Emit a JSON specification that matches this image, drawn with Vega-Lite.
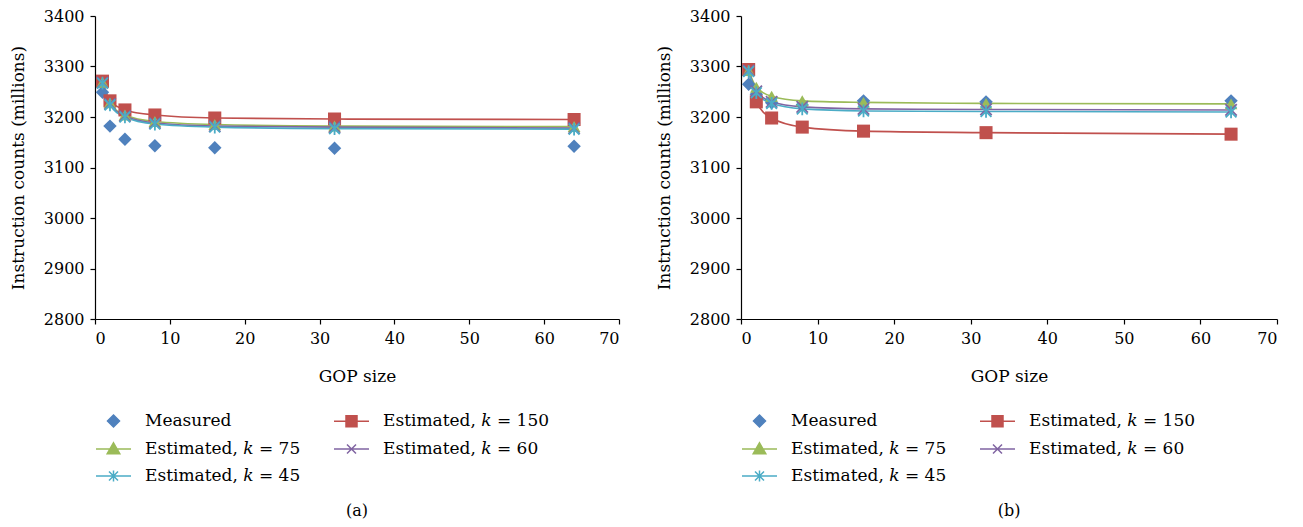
{
  "$schema": "https://vega.github.io/schema/vega-lite/v6.json",
  "padding": {"left": 9, "top": 8, "right": 4, "bottom": 2},
  "spacing": 35,
  "datasets": {
    "a": [
      {"gop": 1, "value": 3249, "series": "Measured"},
      {"gop": 2, "value": 3182, "series": "Measured"},
      {"gop": 4, "value": 3156, "series": "Measured"},
      {"gop": 8, "value": 3143, "series": "Measured"},
      {"gop": 16, "value": 3139, "series": "Measured"},
      {"gop": 32, "value": 3138, "series": "Measured"},
      {"gop": 64, "value": 3142, "series": "Measured"},
      {"gop": 1, "value": 3271, "series": "Estimated, k = 150"},
      {"gop": 2, "value": 3232, "series": "Estimated, k = 150"},
      {"gop": 4, "value": 3214, "series": "Estimated, k = 150"},
      {"gop": 8, "value": 3204, "series": "Estimated, k = 150"},
      {"gop": 16, "value": 3198, "series": "Estimated, k = 150"},
      {"gop": 32, "value": 3196, "series": "Estimated, k = 150"},
      {"gop": 64, "value": 3195, "series": "Estimated, k = 150"},
      {"gop": 1, "value": 3269, "series": "Estimated, k = 75"},
      {"gop": 2, "value": 3228, "series": "Estimated, k = 75"},
      {"gop": 4, "value": 3204, "series": "Estimated, k = 75"},
      {"gop": 8, "value": 3191, "series": "Estimated, k = 75"},
      {"gop": 16, "value": 3185, "series": "Estimated, k = 75"},
      {"gop": 32, "value": 3182, "series": "Estimated, k = 75"},
      {"gop": 64, "value": 3181, "series": "Estimated, k = 75"},
      {"gop": 1, "value": 3268, "series": "Estimated, k = 60"},
      {"gop": 2, "value": 3226, "series": "Estimated, k = 60"},
      {"gop": 4, "value": 3202, "series": "Estimated, k = 60"},
      {"gop": 8, "value": 3188, "series": "Estimated, k = 60"},
      {"gop": 16, "value": 3182, "series": "Estimated, k = 60"},
      {"gop": 32, "value": 3180, "series": "Estimated, k = 60"},
      {"gop": 64, "value": 3178, "series": "Estimated, k = 60"},
      {"gop": 1, "value": 3267, "series": "Estimated, k = 45"},
      {"gop": 2, "value": 3224, "series": "Estimated, k = 45"},
      {"gop": 4, "value": 3200, "series": "Estimated, k = 45"},
      {"gop": 8, "value": 3186, "series": "Estimated, k = 45"},
      {"gop": 16, "value": 3180, "series": "Estimated, k = 45"},
      {"gop": 32, "value": 3177, "series": "Estimated, k = 45"},
      {"gop": 64, "value": 3176, "series": "Estimated, k = 45"}
    ],
    "b": [
      {"gop": 1, "value": 3265, "series": "Measured"},
      {"gop": 2, "value": 3245, "series": "Measured"},
      {"gop": 4, "value": 3228, "series": "Measured"},
      {"gop": 8, "value": 3224, "series": "Measured"},
      {"gop": 16, "value": 3232, "series": "Measured"},
      {"gop": 32, "value": 3230, "series": "Measured"},
      {"gop": 64, "value": 3232, "series": "Measured"},
      {"gop": 1, "value": 3294, "series": "Estimated, k = 150"},
      {"gop": 2, "value": 3230, "series": "Estimated, k = 150"},
      {"gop": 4, "value": 3198, "series": "Estimated, k = 150"},
      {"gop": 8, "value": 3180, "series": "Estimated, k = 150"},
      {"gop": 16, "value": 3172, "series": "Estimated, k = 150"},
      {"gop": 32, "value": 3169, "series": "Estimated, k = 150"},
      {"gop": 64, "value": 3166, "series": "Estimated, k = 150"},
      {"gop": 1, "value": 3292, "series": "Estimated, k = 75"},
      {"gop": 2, "value": 3259, "series": "Estimated, k = 75"},
      {"gop": 4, "value": 3241, "series": "Estimated, k = 75"},
      {"gop": 8, "value": 3232, "series": "Estimated, k = 75"},
      {"gop": 16, "value": 3229, "series": "Estimated, k = 75"},
      {"gop": 32, "value": 3227, "series": "Estimated, k = 75"},
      {"gop": 64, "value": 3226, "series": "Estimated, k = 75"},
      {"gop": 1, "value": 3292, "series": "Estimated, k = 60"},
      {"gop": 2, "value": 3251, "series": "Estimated, k = 60"},
      {"gop": 4, "value": 3230, "series": "Estimated, k = 60"},
      {"gop": 8, "value": 3220, "series": "Estimated, k = 60"},
      {"gop": 16, "value": 3216, "series": "Estimated, k = 60"},
      {"gop": 32, "value": 3215, "series": "Estimated, k = 60"},
      {"gop": 64, "value": 3214, "series": "Estimated, k = 60"},
      {"gop": 1, "value": 3290, "series": "Estimated, k = 45"},
      {"gop": 2, "value": 3248, "series": "Estimated, k = 45"},
      {"gop": 4, "value": 3227, "series": "Estimated, k = 45"},
      {"gop": 8, "value": 3216, "series": "Estimated, k = 45"},
      {"gop": 16, "value": 3212, "series": "Estimated, k = 45"},
      {"gop": 32, "value": 3211, "series": "Estimated, k = 45"},
      {"gop": 64, "value": 3210, "series": "Estimated, k = 45"}
    ]
  },
  "hconcat": [
    {
      "width": 524,
      "height": 303,
      "title": {"text": "(a)", "orient": "bottom", "fontSize": 16, "fontWeight": "normal", "font": "DejaVu Serif", "offset": 18},
      "data": {"name": "a"},
      "encoding": {
        "x": {"field": "gop", "type": "quantitative", "title": "GOP size", "scale": {"domain": [0, 70], "nice": false}, "axis": {"values": [0, 10, 20, 30, 40, 50, 60, 70]}},
        "y": {"field": "value", "type": "quantitative", "title": "Instruction counts (millions)", "scale": {"domain": [2800, 3400], "nice": false, "zero": false}, "axis": {"values": [2800, 2900, 3000, 3100, 3200, 3300, 3400], "format": "d"}}
      },
      "layer": [
        {"transform": [{"filter": "datum.series == 'Estimated, k = 150'"}], "mark": {"type": "line", "interpolate": "monotone", "strokeWidth": 1.6, "color": "#C0504D"}},
        {"transform": [{"filter": "datum.series == 'Estimated, k = 75'"}], "mark": {"type": "line", "interpolate": "monotone", "strokeWidth": 1.6, "color": "#9BBB59"}},
        {"transform": [{"filter": "datum.series == 'Estimated, k = 60'"}], "mark": {"type": "line", "interpolate": "monotone", "strokeWidth": 1.6, "color": "#8064A2"}},
        {"transform": [{"filter": "datum.series == 'Estimated, k = 45'"}], "mark": {"type": "line", "interpolate": "monotone", "strokeWidth": 1.6, "color": "#4BACC6"}},
        {"transform": [{"filter": "datum.series == 'Measured'"}], "mark": {"type": "point", "shape": "diamond", "filled": true, "size": 180, "opacity": 1, "color": "#4F81BD"}},
        {"transform": [{"filter": "datum.series == 'Estimated, k = 150'"}], "mark": {"type": "point", "shape": "square", "filled": true, "size": 170, "opacity": 1, "color": "#C0504D"}},
        {"transform": [{"filter": "datum.series == 'Estimated, k = 75'"}], "mark": {"type": "point", "shape": "triangle-up", "filled": true, "size": 160, "opacity": 1, "color": "#9BBB59"}},
        {"transform": [{"filter": "datum.series == 'Estimated, k = 60'"}], "mark": {"type": "point", "shape": "M-1,-1L1,1M-1,1L1,-1", "filled": false, "size": 130, "strokeWidth": 1.8, "opacity": 1, "color": "#8064A2"}},
        {"transform": [{"filter": "datum.series == 'Estimated, k = 45'"}], "mark": {"type": "point", "shape": "M0,-1V1M-0.85,-0.85L0.85,0.85M-0.85,0.85L0.85,-0.85", "filled": false, "size": 160, "strokeWidth": 1.8, "opacity": 1, "color": "#4BACC6"}},
        {
          "transform": [{"filter": "datum.gop < 0"}],
          "mark": {"type": "point", "filled": true},
          "encoding": {
            "color": {
              "field": "series", "type": "nominal",
              "scale": {"domain": ["Measured", "Estimated, k = 150", "Estimated, k = 75", "Estimated, k = 60", "Estimated, k = 45"], "range": ["#4F81BD", "#C0504D", "#9BBB59", "#8064A2", "#4BACC6"]},
              "legend": {"title": null, "orient": "bottom", "columns": 2, "direction": "horizontal", "labelExpr": "replace(datum.label, ' k ', ' 𝑘 ')"}
            },
            "stroke": {
              "field": "series", "type": "nominal",
              "scale": {"domain": ["Measured", "Estimated, k = 150", "Estimated, k = 75", "Estimated, k = 60", "Estimated, k = 45"], "range": ["#4F81BD", "#C0504D", "#9BBB59", "#8064A2", "#4BACC6"]},
              "legend": {"title": null, "orient": "bottom", "columns": 2, "direction": "horizontal", "labelExpr": "replace(datum.label, ' k ', ' 𝑘 ')"}
            },
            "shape": {
              "field": "series", "type": "nominal",
              "scale": {"domain": ["Measured", "Estimated, k = 150", "Estimated, k = 75", "Estimated, k = 60", "Estimated, k = 45"], "range": ["M0.75,-0.6L1.35,0L0.75,0.6L0.15,0Z", "M-1,0H2.5M0.2,-0.55H1.3V0.55H0.2Z", "M-1,0H2.5M0.75,-0.62L1.38,0.48H0.12Z", "M-1,0H2.5M0.3,-0.45L1.2,0.45M0.3,0.45L1.2,-0.45", "M-1,0H2.5M0.75,-0.55V0.55M0.3,-0.45L1.2,0.45M0.3,0.45L1.2,-0.45"]},
              "legend": {"title": null, "orient": "bottom", "columns": 2, "direction": "horizontal", "labelExpr": "replace(datum.label, ' k ', ' 𝑘 ')"}
            }
          }
        }
      ]
    },
    {
      "width": 536,
      "height": 303,
      "title": {"text": "(b)", "orient": "bottom", "fontSize": 16, "fontWeight": "normal", "font": "DejaVu Serif", "offset": 18},
      "data": {"name": "b"},
      "encoding": {
        "x": {"field": "gop", "type": "quantitative", "title": "GOP size", "scale": {"domain": [0, 70], "nice": false}, "axis": {"values": [0, 10, 20, 30, 40, 50, 60, 70]}},
        "y": {"field": "value", "type": "quantitative", "title": "Instruction counts (millions)", "scale": {"domain": [2800, 3400], "nice": false, "zero": false}, "axis": {"values": [2800, 2900, 3000, 3100, 3200, 3300, 3400], "format": "d"}}
      },
      "layer": [
        {"transform": [{"filter": "datum.series == 'Estimated, k = 150'"}], "mark": {"type": "line", "interpolate": "monotone", "strokeWidth": 1.6, "color": "#C0504D"}},
        {"transform": [{"filter": "datum.series == 'Estimated, k = 75'"}], "mark": {"type": "line", "interpolate": "monotone", "strokeWidth": 1.6, "color": "#9BBB59"}},
        {"transform": [{"filter": "datum.series == 'Estimated, k = 60'"}], "mark": {"type": "line", "interpolate": "monotone", "strokeWidth": 1.6, "color": "#8064A2"}},
        {"transform": [{"filter": "datum.series == 'Estimated, k = 45'"}], "mark": {"type": "line", "interpolate": "monotone", "strokeWidth": 1.6, "color": "#4BACC6"}},
        {"transform": [{"filter": "datum.series == 'Measured'"}], "mark": {"type": "point", "shape": "diamond", "filled": true, "size": 180, "opacity": 1, "color": "#4F81BD"}},
        {"transform": [{"filter": "datum.series == 'Estimated, k = 150'"}], "mark": {"type": "point", "shape": "square", "filled": true, "size": 170, "opacity": 1, "color": "#C0504D"}},
        {"transform": [{"filter": "datum.series == 'Estimated, k = 75'"}], "mark": {"type": "point", "shape": "triangle-up", "filled": true, "size": 160, "opacity": 1, "color": "#9BBB59"}},
        {"transform": [{"filter": "datum.series == 'Estimated, k = 60'"}], "mark": {"type": "point", "shape": "M-1,-1L1,1M-1,1L1,-1", "filled": false, "size": 130, "strokeWidth": 1.8, "opacity": 1, "color": "#8064A2"}},
        {"transform": [{"filter": "datum.series == 'Estimated, k = 45'"}], "mark": {"type": "point", "shape": "M0,-1V1M-0.85,-0.85L0.85,0.85M-0.85,0.85L0.85,-0.85", "filled": false, "size": 160, "strokeWidth": 1.8, "opacity": 1, "color": "#4BACC6"}},
        {
          "transform": [{"filter": "datum.gop < 0"}],
          "mark": {"type": "point", "filled": true},
          "encoding": {
            "color": {
              "field": "series", "type": "nominal",
              "scale": {"domain": ["Measured", "Estimated, k = 150", "Estimated, k = 75", "Estimated, k = 60", "Estimated, k = 45"], "range": ["#4F81BD", "#C0504D", "#9BBB59", "#8064A2", "#4BACC6"]},
              "legend": {"title": null, "orient": "bottom", "columns": 2, "direction": "horizontal", "labelExpr": "replace(datum.label, ' k ', ' 𝑘 ')"}
            },
            "stroke": {
              "field": "series", "type": "nominal",
              "scale": {"domain": ["Measured", "Estimated, k = 150", "Estimated, k = 75", "Estimated, k = 60", "Estimated, k = 45"], "range": ["#4F81BD", "#C0504D", "#9BBB59", "#8064A2", "#4BACC6"]},
              "legend": {"title": null, "orient": "bottom", "columns": 2, "direction": "horizontal", "labelExpr": "replace(datum.label, ' k ', ' 𝑘 ')"}
            },
            "shape": {
              "field": "series", "type": "nominal",
              "scale": {"domain": ["Measured", "Estimated, k = 150", "Estimated, k = 75", "Estimated, k = 60", "Estimated, k = 45"], "range": ["M0.75,-0.6L1.35,0L0.75,0.6L0.15,0Z", "M-1,0H2.5M0.2,-0.55H1.3V0.55H0.2Z", "M-1,0H2.5M0.75,-0.62L1.38,0.48H0.12Z", "M-1,0H2.5M0.3,-0.45L1.2,0.45M0.3,0.45L1.2,-0.45", "M-1,0H2.5M0.75,-0.55V0.55M0.3,-0.45L1.2,0.45M0.3,0.45L1.2,-0.45"]},
              "legend": {"title": null, "orient": "bottom", "columns": 2, "direction": "horizontal", "labelExpr": "replace(datum.label, ' k ', ' 𝑘 ')"}
            }
          }
        }
      ]
    }
  ],
  "resolve": {
    "scale": {"color": "independent", "shape": "independent", "stroke": "independent"},
    "legend": {"color": "independent", "shape": "independent", "stroke": "independent"}
  },
  "config": {
    "font": "DejaVu Serif",
    "view": {"stroke": null},
    "axis": {
      "grid": false,
      "domainColor": "#000000",
      "domainWidth": 1.2,
      "tickColor": "#000000",
      "tickWidth": 1.2,
      "tickSize": 5,
      "labelFont": "DejaVu Serif",
      "titleFont": "DejaVu Serif",
      "labelFontSize": 16,
      "titleFontSize": 17,
      "labelColor": "#000000",
      "titleColor": "#000000",
      "titleFontWeight": "normal",
      "labelPadding": 6
    },
    "axisX": {"titlePadding": 22},
    "axisY": {"titlePadding": 16},
    "legend": {
      "labelFont": "DejaVu Serif",
      "labelFontSize": 17,
      "labelColor": "#000000",
      "symbolSize": 400,
      "symbolStrokeWidth": 1.5,
      "symbolOpacity": 1,
      "labelOffset": 28,
      "rowPadding": 8,
      "columnPadding": 30,
      "offset": 26,
      "labelLimit": 300
    }
  }
}
